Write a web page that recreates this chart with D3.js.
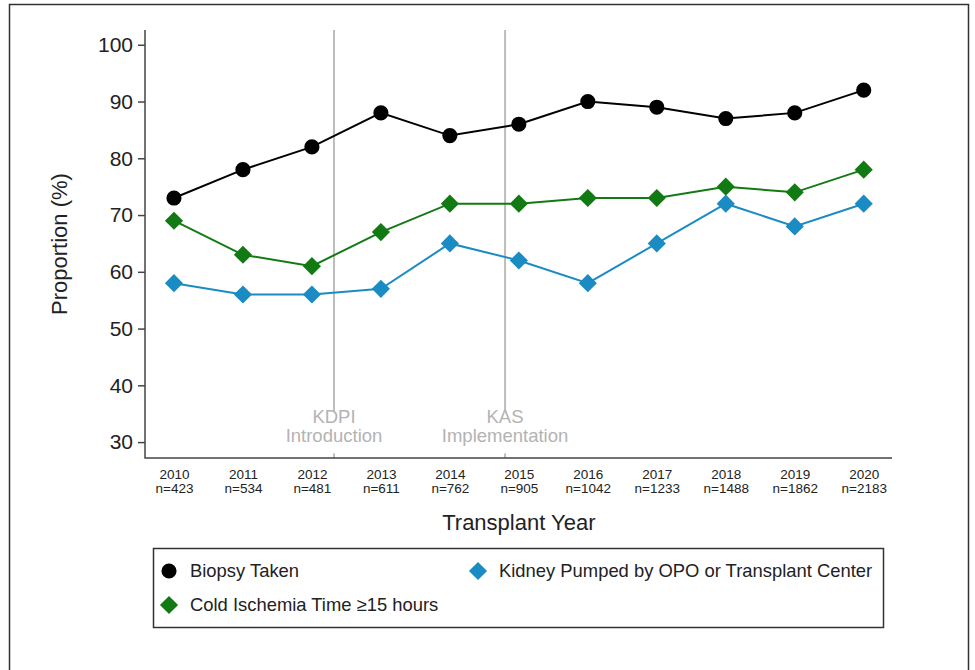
<!DOCTYPE html>
<html>
<head>
<meta charset="utf-8">
<script src="https://cdn.jsdelivr.net/npm/d3@7"></script>
<style>
  body { margin: 0; background: #fff; }
  svg { display: block; font-family: 'Liberation Sans', Arial, sans-serif; }
</style>
</head>
<body>
<div id="chart"></div>
<script>
const years = [2010, 2011, 2012, 2013, 2014, 2015, 2016, 2017, 2018, 2019, 2020]
const sampleSizes = [423, 534, 481, 611, 762, 905, 1042, 1233, 1488, 1862, 2183]

const biopsyTaken = [73, 78, 82, 88, 84, 86, 90, 89, 87, 88, 92]
const coldIschemia = [69, 63, 61, 67, 72, 72, 73, 73, 75, 74, 78]
const kidneyPumped = [58, 56, 56, 57, 65, 62, 58, 65, 72, 68, 72]

const yTicks = [30, 40, 50, 60, 70, 80, 90, 100]

const eventYears = [2012.32, 2014.8]
const eventLabels = [['KDPI', 'Introduction'], ['KAS', 'Implementation']]

const seriesNames = ['Biopsy Taken', 'Cold Ischemia Time \u226515 hours', 'Kidney Pumped by OPO or Transplant Center']

const width = 975
const height = 670
const margin = { top: 30, left: 145, right: 83, bottom: 212 }
const plotW = width - margin.left - margin.right
const plotH = height - margin.top - margin.bottom

const svg = d3.select('#chart')
  .append('svg')
  .attr('width', width)
  .attr('height', height)

// outer frame
svg.append('path')
  .attr('d', 'M9.5,670 V4.5 H968.5 V670')
  .attr('fill', 'none')
  .attr('stroke', '#333')
  .attr('stroke-width', 1.5)

const g = svg.append('g')
  .attr('transform', 'translate(' + margin.left + ',' + margin.top + ')')

const xPositionScale = d3.scaleLinear()
  .domain([2009.58, 2020.41])
  .range([0, plotW])

const yPositionScale = d3.scaleLinear()
  .domain([27.2, 102.6])
  .range([plotH, 0])

// policy reference lines
eventYears.forEach((yr, i) => {
  const x = xPositionScale(yr)
  g.append('line')
    .attr('x1', x).attr('x2', x)
    .attr('y1', 0).attr('y2', plotH)
    .attr('stroke', '#bdbdbd')
    .attr('stroke-width', 2)
  g.append('rect')
    .attr('x', x - 58).attr('y', yPositionScale(35.4))
    .attr('width', 116).attr('height', 42)
    .attr('fill', '#fff')
  const t = g.append('text')
    .attr('text-anchor', 'middle')
    .attr('font-size', 18.5)
    .attr('fill', '#b3b3b3')
  eventLabels[i].forEach((s, j) => {
    t.append('tspan')
      .attr('x', x)
      .attr('y', yPositionScale(30.4) - 17 + j * 19)
      .text(s)
  })
})

// axes
const yAxis = d3.axisLeft(yPositionScale)
  .tickValues(yTicks)
  .tickSize(7)
  .tickPadding(5)
g.append('g')
  .attr('class', 'axis y-axis')
  .call(yAxis)
  .call(s => s.select('.domain').attr('d', 'M0,0V' + plotH + 'H' + plotW))
  .call(s => s.selectAll('.domain, line').attr('stroke', '#444').attr('stroke-width', 1.5))
  .call(s => s.selectAll('text').attr('font-size', 21).attr('fill', '#222').attr('font-family', "'Liberation Sans', Arial, sans-serif"))

const xAxis = d3.axisBottom(xPositionScale)
  .tickValues(years)
  .tickSize(0)
  .tickPadding(0)
  .tickFormat(d => d)
g.append('g')
  .attr('class', 'axis x-axis')
  .attr('transform', 'translate(0,' + plotH + ')')
  .call(xAxis)
  .call(s => s.select('.domain').remove())
  .call(s => s.selectAll('text').each(function (d, i) {
    const t = d3.select(this)
      .text(null)
      .attr('font-size', 13.5)
      .attr('fill', '#222')
      .attr('font-family', "'Liberation Sans', Arial, sans-serif")
      .attr('y', 0).attr('dy', null)
    t.append('tspan').attr('x', 0).attr('y', 21).text(d)
    t.append('tspan').attr('x', 0).attr('y', 35).text('n=' + sampleSizes[i])
  }))

// axis titles
g.append('text')
  .attr('transform', 'translate(' + (-78) + ',' + (plotH / 2) + ') rotate(-90)')
  .attr('text-anchor', 'middle')
  .attr('font-size', 22)
  .attr('fill', '#222')
  .text('Proportion (%)')

g.append('text')
  .attr('x', xPositionScale(2015))
  .attr('y', plotH + 72)
  .attr('text-anchor', 'middle')
  .attr('font-size', 22)
  .attr('fill', '#222')
  .text('Transplant Year')

// series
const series = [
  { values: coldIschemia, color: '#127a12', shape: 'diamond' },
  { values: kidneyPumped, color: '#1a8cc3', shape: 'diamond' },
  { values: biopsyTaken, color: '#000', shape: 'circle' }
]

const line = d3.line()
  .x((d, i) => xPositionScale(years[i]))
  .y(d => yPositionScale(d))

const circleSym = d3.symbol().type(d3.symbolCircle).size(180)
const diamondSym = d3.symbol().type(d3.symbolSquare).size(165)

series.forEach(s => {
  g.append('path')
    .attr('d', line(s.values))
    .attr('fill', 'none')
    .attr('stroke', s.color)
    .attr('stroke-width', 2)
  g.selectAll(null)
    .data(s.values)
    .enter()
    .append('path')
    .attr('d', s.shape === 'circle' ? circleSym() : diamondSym())
    .attr('fill', s.color)
    .attr('transform', (d, i) => 'translate(' + xPositionScale(years[i]) + ',' + yPositionScale(d) + ')' + (s.shape === 'circle' ? '' : ' rotate(45)'))
})

// legend
const legend = svg.append('g')
  .attr('transform', 'translate(153,548)')
legend.append('rect')
  .attr('x', 0.5).attr('y', 0.5)
  .attr('width', 730).attr('height', 79)
  .attr('fill', '#fff')
  .attr('stroke', '#333')
  .attr('stroke-width', 1.5)

const legendItems = [
  { name: seriesNames[0], color: '#000', shape: 'circle', x: 16, y: 23 },
  { name: seriesNames[2], color: '#1a8cc3', shape: 'diamond', x: 325, y: 23 },
  { name: seriesNames[1], color: '#127a12', shape: 'diamond', x: 16, y: 57 }
]
legendItems.forEach(item => {
  legend.append('path')
    .attr('d', item.shape === 'circle' ? circleSym() : diamondSym())
    .attr('fill', item.color)
    .attr('transform', 'translate(' + item.x + ',' + item.y + ')' + (item.shape === 'circle' ? '' : ' rotate(45)'))
  legend.append('text')
    .attr('x', item.x + 21)
    .attr('y', item.y + 6)
    .attr('font-size', 18.4)
    .attr('fill', '#222')
    .text(item.name)
})
</script>
</body>
</html>
